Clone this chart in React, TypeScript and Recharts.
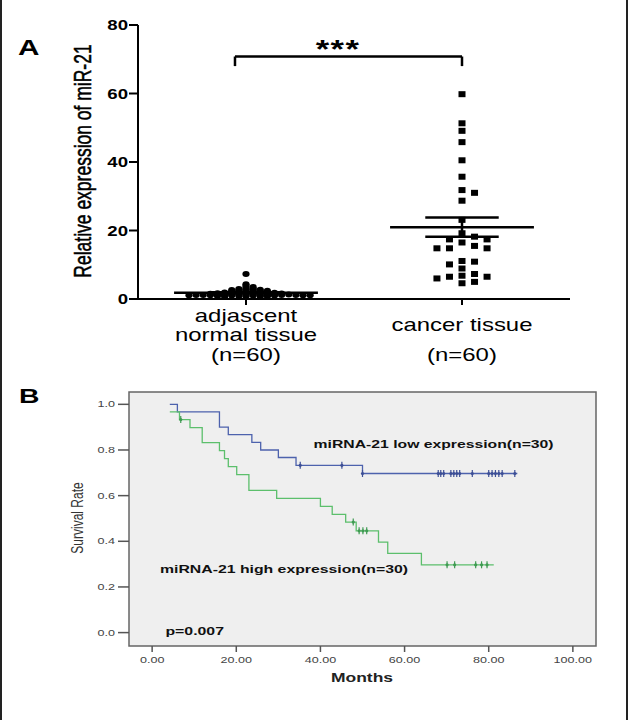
import { CartesianGrid, ComposedChart, Line, ReferenceArea, ReferenceLine, Scatter, XAxis, YAxis } from "recharts"

const FONT = "'Liberation Sans', Arial, Helvetica, sans-serif"

// panel A: relative miR-21 expression
const groupLines = [["adjascent", "normal tissue"], ["cancer tissue"]]
const groupN = [60, 60]
const normalExpr = [
  7.3, 4.3, 3.8, 3.5, 3.2, 3.0, 2.9, 2.8, 2.7, 2.6, 2.6, 2.5, 2.4, 2.4, 2.3, 2.2, 2.2, 2.1, 2.0, 2.0,
  1.9, 1.9, 1.8, 1.8, 1.8, 1.7, 1.7, 1.6, 1.6, 1.6, 1.5, 1.5, 1.5, 1.4, 1.4, 1.4, 1.3, 1.3, 1.3, 1.2,
  1.2, 1.2, 1.1, 1.1, 1.1, 1.0, 1.2, 1.2, 1.2, 1.1, 1.1, 1.1, 1.0, 1.0, 0.9, 0.9, 0.8, 0.8, 0.7, 0.7,
]
const cancerExpr = [
  59.8, 51.3, 49.1, 45.8, 40.5, 35.7, 31.8, 31.0, 28.7, 23.1, 19.2, 18.2, 17.4, 17.4, 16.5,
  15.5, 14.8, 14.8, 14.8, 11.1, 10.9, 10.1, 8.9, 7.3, 6.8, 6.5, 6.5, 6.0, 5.0, 4.6,
]
const exprTicks = [0, 20, 40, 60, 80]
const sigLabel = "***"
const exprTitle = "Relative expression of miR-21"

// panel B: Kaplan-Meier survival
const lowMonths = [4.2, 6.0, 16.0, 18.1, 23.7, 25.8, 30.0, 34.2, 50.0, 86.8]
const lowSurv = [1.0, 0.967, 0.9, 0.867, 0.833, 0.8, 0.767, 0.733, 0.697, 0.697]
const lowCensored = [35.2, 45.1, 50.0, 68.0, 68.6, 69.3, 71.0, 71.7, 72.4, 73.1, 76.1, 80.0, 80.8, 81.6, 82.4, 83.2, 86.2]
const highMonths = [4.2, 6.5, 9.0, 11.9, 16.0, 17.2, 18.1, 20.1, 23.0, 29.6, 40.0, 42.8, 46.0, 48.5, 53.8, 56.0, 64.0, 81.2]
const highSurv = [0.967, 0.933, 0.898, 0.832, 0.797, 0.762, 0.727, 0.692, 0.623, 0.588, 0.553, 0.518, 0.484, 0.446, 0.396, 0.347, 0.297, 0.297]
const highCensored = [6.8, 47.8, 49.2, 50.1, 51.0, 70.1, 71.9, 76.9, 78.3, 79.6]
const monthTicks = [0, 20, 40, 60, 80, 100]
const survTicks = [0, 0.2, 0.4, 0.6, 0.8, 1.0]
const lowLabel = "miRNA-21 low expression(n=30)"
const highLabel = "miRNA-21 high expression(n=30)"
const pLabel = "p=0.007"

const BLUE = "#4d62ad"
const GREEN = "#5cbf6c"

// spread points sideways so they don't sit on top of each other
function swarm(values: number[], center: number, step: number, gap: number) {
  const placed: { x: number; y: number; col: number }[] = []
  const sorted = [...values].sort((a, b) => b - a)
  for (const v of sorted) {
    let col = 0
    for (let i = 0; i < 200; i++) {
      const c = i === 0 ? 0 : i % 2 ? Math.ceil(i / 2) : -i / 2
      if (!placed.some((p) => p.col === c && Math.abs(p.y - v) < gap)) {
        col = c
        break
      }
    }
    placed.push({ x: center + col * step, y: v, col })
  }
  return placed
}

function meanSem(values: number[]) {
  const n = values.length
  const m = values.reduce((a, b) => a + b, 0) / n
  const sd = Math.sqrt(values.reduce((a, b) => a + (b - m) ** 2, 0) / (n - 1))
  return { m, sem: sd / Math.sqrt(n) }
}

function survAt(months: number[], surv: number[], t: number) {
  let s = surv[0]
  months.forEach((mo, i) => {
    if (mo <= t) s = surv[i]
  })
  return s
}

const normalPts = swarm(normalExpr, 0.5, 0.033, 0.38)
const cancerPts = swarm(cancerExpr, 1.5, 0.058, 1.9)
const stats = [meanSem(normalExpr), meanSem(cancerExpr)]

const lowCurve = lowMonths.map((t, i) => ({ t, s: lowSurv[i] }))
const highCurve = highMonths.map((t, i) => ({ t, s: highSurv[i] }))
const lowMarks = lowCensored.map((t) => ({ t, s: survAt(lowMonths, lowSurv, t) }))
const highMarks = highCensored.map((t) => ({ t, s: survAt(highMonths, highSurv, t) }))

const ExprTick = ({ x, y, payload }: any) => (
  <g transform={`translate(${x},${y}) scale(1.33,1)`}>
    <text x={0} y={0} dy="0.36em" textAnchor="end" fontSize={14} fontWeight="bold" fontFamily={FONT} fill="#000">
      {payload.value}
    </text>
  </g>
)

const GroupTick = ({ x, y, payload }: any) => {
  const idx = Math.round(payload.value - 0.5)
  const lines = groupLines[idx] || []
  const first = lines.length > 1 ? 15 : 24
  return (
    <g transform={`translate(${x},${y}) scale(1.33,1)`} fontSize={18} fontFamily={FONT} fill="#000">
      {lines.map((l, i) => (
        <text key={l} x={0} y={first + i * 19.5} textAnchor="middle">
          {l}
        </text>
      ))}
      <text x={0} y={54} textAnchor="middle">
        (n={groupN[idx]})
      </text>
    </g>
  )
}

const MonthTick = ({ x, y, payload }: any) => (
  <g transform={`translate(${x},${y}) scale(1.4,1)`}>
    <text x={0} y={9} textAnchor="middle" fontSize={9} fontFamily={FONT} fill="#444">
      {payload.value.toFixed(2)}
    </text>
  </g>
)

const SurvTick = ({ x, y, payload }: any) => (
  <g transform={`translate(${x},${y}) scale(1.4,1)`}>
    <text x={0} y={0} dy="0.35em" textAnchor="end" fontSize={9} fontFamily={FONT} fill="#444">
      {payload.value.toFixed(1)}
    </text>
  </g>
)

const censorShape = (color: string) => (p: any) => (
  <g>
    <line x1={p.cx} x2={p.cx} y1={p.cy - 3.5} y2={p.cy + 3.5} stroke={color} strokeWidth={1.2} />
    <circle cx={p.cx} cy={p.cy} r={1.6} fill={color} />
  </g>
)

function ExpressionPlot() {
  const axis = { stroke: "#000", strokeWidth: 2 }
  const line = { stroke: "#000", strokeWidth: 2.5 }
  return (
    <ComposedChart width={628} height={380} margin={{ top: 25, right: 58, bottom: 6, left: 0 }}>
      <XAxis type="number" dataKey="x" domain={[0, 2]} ticks={[0.5, 1.5]} interval={0} height={75}
        tickSize={6} tickMargin={2} axisLine={axis} tickLine={axis} tick={GroupTick} />
      <YAxis type="number" dataKey="y" domain={[0, 80]} ticks={exprTicks} interval={0} width={138}
        tickSize={9} tickMargin={1} axisLine={axis} tickLine={axis} tick={ExprTick} />
      <Scatter data={normalPts} isAnimationActive={false}
        shape={(p: any) => <ellipse cx={p.cx} cy={p.cy} rx={3.6} ry={3} fill="#000" />} />
      <Scatter data={cancerPts} isAnimationActive={false}
        shape={(p: any) => <rect x={p.cx - 3.5} y={p.cy - 3} width={7} height={6} fill="#000" />} />
      {stats.map((s, i) => {
        const c = i + 0.5
        return [
          <ReferenceLine key={`m${i}`} segment={[{ x: c - 0.333, y: s.m }, { x: c + 0.333, y: s.m }]} {...line} />,
          <ReferenceLine key={`u${i}`} segment={[{ x: c - 0.17, y: s.m + s.sem }, { x: c + 0.17, y: s.m + s.sem }]} {...line} />,
          <ReferenceLine key={`l${i}`} segment={[{ x: c - 0.17, y: s.m - s.sem }, { x: c + 0.17, y: s.m - s.sem }]} {...line} />,
          <ReferenceLine key={`v${i}`} segment={[{ x: c, y: s.m - s.sem }, { x: c, y: s.m + s.sem }]} {...line} />,
        ]
      })}
      <ReferenceLine segment={[{ x: 0.449, y: 70.8 }, { x: 1.5, y: 70.8 }]} {...line} />
      <ReferenceLine segment={[{ x: 0.449, y: 70.8 }, { x: 0.449, y: 68 }]} {...line} />
      <ReferenceLine segment={[{ x: 1.5, y: 70.8 }, { x: 1.5, y: 68 }]} {...line} />
    </ComposedChart>
  )
}

function SurvivalPlot() {
  const tl = { stroke: "#555", strokeWidth: 1.5 }
  return (
    <ComposedChart width={628} height={340} margin={{ top: 12, right: 32, bottom: 44, left: 0 }}>
      <CartesianGrid horizontal={false} vertical={false} fill="#efefef" />
      <XAxis type="number" dataKey="t" domain={[-5.5, 105.5]} ticks={monthTicks} interval={0} allowDataOverflow
        height={30} tickSize={6} tickMargin={2} axisLine={false} tickLine={tl} tick={MonthTick} />
      <YAxis type="number" dataKey="s" domain={[-0.0587, 1.054]} ticks={survTicks} interval={0} allowDataOverflow
        width={129} tickSize={11} tickMargin={3} axisLine={false} tickLine={tl} tick={SurvTick} />
      <ReferenceArea x1={-5.5} x2={105.5} y1={-0.0587} y2={1.054} fill="none" stroke="#666" strokeWidth={1.5} />
      <Line data={lowCurve} dataKey="s" type="stepAfter" stroke={BLUE} strokeWidth={1.3} dot={false} isAnimationActive={false} />
      <Line data={highCurve} dataKey="s" type="stepAfter" stroke={GREEN} strokeWidth={1.3} dot={false} isAnimationActive={false} />
      <Scatter data={lowMarks} shape={censorShape("#3d4f96")} isAnimationActive={false} />
      <Scatter data={highMarks} shape={censorShape("#3f9a52")} isAnimationActive={false} />
    </ComposedChart>
  )
}

export default function App() {
  return (
    <div style={{ position: "absolute", left: 0, top: 0, width: 628, height: 720, background: "#fff", overflow: "hidden" }}>
      <div style={{ position: "absolute", left: 0, top: 0 }}>
        <ExpressionPlot />
      </div>
      <div style={{ position: "absolute", left: 0, top: 380 }}>
        <SurvivalPlot />
      </div>
      <svg width={628} height={720} style={{ position: "absolute", left: 0, top: 0, pointerEvents: "none" }} fontFamily={FONT}>
        <rect x={0} y={0} width={2} height={720} fill="#222" />
        <rect x={626} y={0} width={2} height={720} fill="#222" />
        <text transform="translate(18,55) scale(1.35,1)" fontSize={22} fontWeight="bold">A</text>
        <text transform="translate(338,57.5) scale(1.33,1)" fontSize={26} fontWeight="bold" textAnchor="middle" letterSpacing={1}>
          {sigLabel}
        </text>
        <text transform="translate(83,161) scale(1.33,1) rotate(-90)" fontSize={17.5} textAnchor="middle" dy="0.35em"
          stroke="#000" strokeWidth={0.4}>
          {exprTitle}
        </text>
        <text transform="translate(19,403) scale(1.35,1)" fontSize={21} fontWeight="bold">B</text>
        <text transform="translate(77,518) scale(1.35,1) rotate(-90)" fontSize={12} textAnchor="middle" dy="0.35em" fill="#333">
          Survival Rate
        </text>
        <text transform="translate(362,682) scale(1.4,1)" fontSize={12.5} fontWeight="bold" textAnchor="middle" fill="#222">
          Months
        </text>
        <text x={313.6} y={448} fontSize={10.5} fontWeight="bold" textLength={240} lengthAdjust="spacingAndGlyphs" fill="#111">
          {lowLabel}
        </text>
        <text x={160} y={572.5} fontSize={10.5} fontWeight="bold" textLength={248} lengthAdjust="spacingAndGlyphs" fill="#111">
          {highLabel}
        </text>
        <text x={165.4} y={635} fontSize={10.5} fontWeight="bold" textLength={58.6} lengthAdjust="spacingAndGlyphs" fill="#111">
          {pLabel}
        </text>
      </svg>
    </div>
  )
}
